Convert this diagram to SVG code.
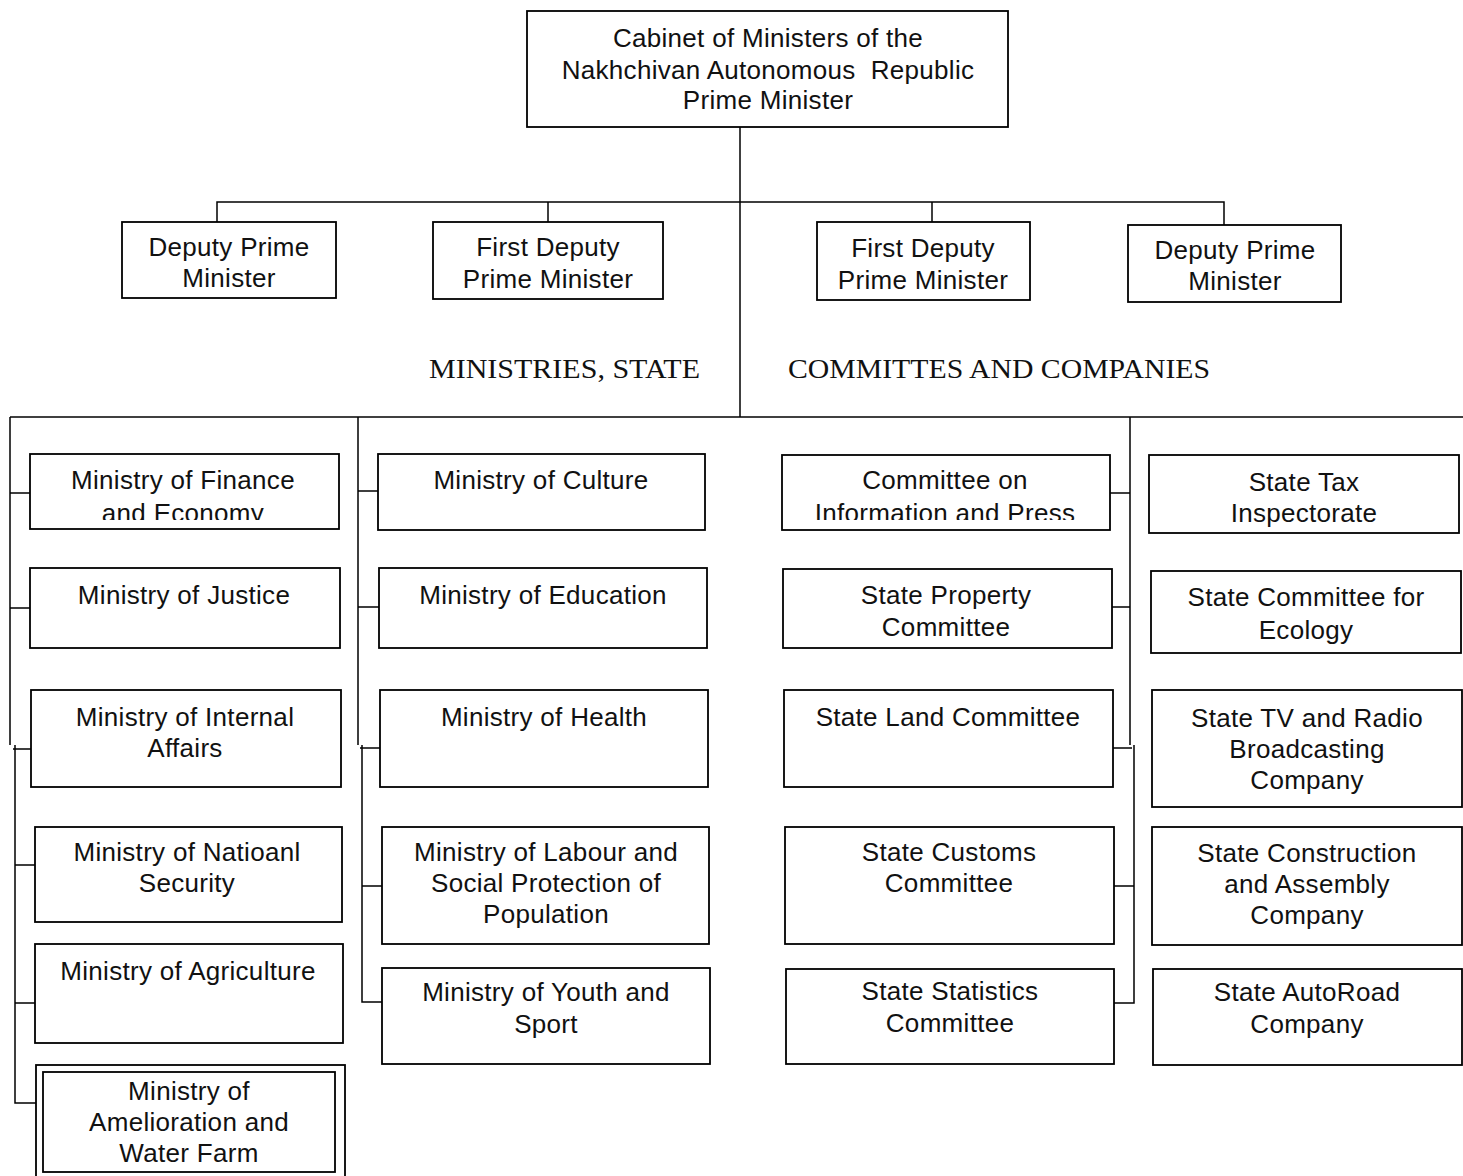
<svg xmlns="http://www.w3.org/2000/svg" width="1463" height="1176" viewBox="0 0 1463 1176">
<style>
.box{fill:#fff;stroke:#000;stroke-width:1.8}
.t{font-family:"Liberation Sans",Arial,sans-serif;font-size:26px;fill:#111;text-anchor:middle;letter-spacing:0.3px}
.h{font-family:"Liberation Serif","Times New Roman",serif;font-size:28px;fill:#111}
.c{fill:none;stroke:#000;stroke-width:1.5}
</style>
<defs>
<clipPath id="clipFin"><rect x="30" y="454" width="310" height="66"/></clipPath>
<clipPath id="clipInfo"><rect x="782" y="455" width="329" height="65"/></clipPath>
</defs>
<rect width="1463" height="1176" fill="#fff"/>
<g id="connectors">
<path class="c" d="M740,127 V417"/>
<path class="c" d="M217,222 V202 H1224 V225"/>
<path class="c" d="M548,202 V222"/>
<path class="c" d="M932,202 V222"/>
<path class="c" d="M10,417 H1463"/>
<path class="c" d="M10,417 V745 M15,745 V1103 H36"/>
<path class="c" d="M10,493 H30 M10,608 H30 M13,749 H31 M15,865 H35 M15,1003 H35"/>
<path class="c" d="M358,417 V745 M362,745 V1002 H382"/>
<path class="c" d="M358,491 H378 M358,607 H379 M360,748 H380 M362,886 H382"/>
<path class="c" d="M1130,417 V745 M1134,745 V1003 H1114"/>
<path class="c" d="M1110,493 H1130 M1112,607 H1130 M1113,748 H1132 M1114,886 H1134"/>
</g>
<g id="cabinet"><rect class="box" x="527" y="11" width="481" height="116"/>
<text class="t" x="768" y="47">Cabinet of Ministers of the</text>
<text class="t" x="768" y="79" xml:space="preserve">Nakhchivan Autonomous  Republic</text>
<text class="t" x="768" y="109">Prime Minister</text></g>
<g id="deputy1"><rect class="box" x="122" y="222" width="214" height="76"/>
<text class="t" x="229" y="256">Deputy Prime</text><text class="t" x="229" y="287">Minister</text></g>
<g id="firstdeputy1"><rect class="box" x="433" y="222" width="230" height="77"/>
<text class="t" x="548" y="256">First Deputy</text><text class="t" x="548" y="288">Prime Minister</text></g>
<g id="firstdeputy2"><rect class="box" x="817" y="222" width="213" height="78"/>
<text class="t" x="923" y="257">First Deputy</text><text class="t" x="923" y="289">Prime Minister</text></g>
<g id="deputy2"><rect class="box" x="1128" y="225" width="213" height="77"/>
<text class="t" x="1235" y="259">Deputy Prime</text><text class="t" x="1235" y="290">Minister</text></g>
<g id="heading">
<text class="h" x="429" y="378" textLength="271" lengthAdjust="spacingAndGlyphs">MINISTRIES, STATE</text>
<text class="h" x="788" y="378" textLength="422" lengthAdjust="spacingAndGlyphs">COMMITTES AND COMPANIES</text>
</g>
<g id="finance"><rect class="box" x="30" y="454" width="309" height="75"/>
<g clip-path="url(#clipFin)"><text class="t" x="183" y="489">Ministry of Finance</text><text class="t" x="183" y="522">and Economy</text></g></g>
<g id="justice"><rect class="box" x="30" y="568" width="310" height="80"/>
<text class="t" x="184" y="604">Ministry of Justice</text></g>
<g id="internal"><rect class="box" x="31" y="690" width="310" height="97"/>
<text class="t" x="185" y="726">Ministry of Internal</text><text class="t" x="185" y="757">Affairs</text></g>
<g id="security"><rect class="box" x="35" y="827" width="307" height="95"/>
<text class="t" x="187" y="861">Ministry of Natioanl</text><text class="t" x="187" y="892">Security</text></g>
<g id="agriculture"><rect class="box" x="35" y="944" width="308" height="99"/>
<text class="t" x="188" y="980">Ministry of Agriculture</text></g>
<g id="amelioration"><rect class="box" x="36" y="1065" width="309" height="115"/>
<rect class="box" x="43" y="1072" width="292" height="100"/>
<text class="t" x="189" y="1100">Ministry of</text><text class="t" x="189" y="1131">Amelioration and</text><text class="t" x="189" y="1162">Water Farm</text></g>
<g id="culture"><rect class="box" x="378" y="454" width="327" height="76"/>
<text class="t" x="541" y="489">Ministry of Culture</text></g>
<g id="education"><rect class="box" x="379" y="568" width="328" height="80"/>
<text class="t" x="543" y="604">Ministry of Education</text></g>
<g id="health"><rect class="box" x="380" y="690" width="328" height="97"/>
<text class="t" x="544" y="726">Ministry of Health</text></g>
<g id="labour"><rect class="box" x="382" y="827" width="327" height="117"/>
<text class="t" x="546" y="861">Ministry of Labour and</text><text class="t" x="546" y="892">Social Protection of</text><text class="t" x="546" y="923">Population</text></g>
<g id="youth"><rect class="box" x="382" y="968" width="328" height="96"/>
<text class="t" x="546" y="1001">Ministry of Youth and</text><text class="t" x="546" y="1033">Sport</text></g>
<g id="info"><rect class="box" x="782" y="455" width="328" height="75"/>
<g clip-path="url(#clipInfo)"><text class="t" x="945" y="489">Committee on</text><text class="t" x="945" y="522">Information and Press</text></g></g>
<g id="property"><rect class="box" x="783" y="569" width="329" height="79"/>
<text class="t" x="946" y="604">State Property</text><text class="t" x="946" y="636">Committee</text></g>
<g id="land"><rect class="box" x="784" y="690" width="329" height="97"/>
<text class="t" x="948" y="726">State Land Committee</text></g>
<g id="customs"><rect class="box" x="785" y="827" width="329" height="117"/>
<text class="t" x="949" y="861">State Customs</text><text class="t" x="949" y="892">Committee</text></g>
<g id="statistics"><rect class="box" x="786" y="969" width="328" height="95"/>
<text class="t" x="950" y="1000">State Statistics</text><text class="t" x="950" y="1032">Committee</text></g>
<g id="tax"><rect class="box" x="1149" y="455" width="310" height="78"/>
<text class="t" x="1304" y="491">State Tax</text><text class="t" x="1304" y="522">Inspectorate</text></g>
<g id="ecology"><rect class="box" x="1151" y="571" width="310" height="82"/>
<text class="t" x="1306" y="606">State Committee for</text><text class="t" x="1306" y="639">Ecology</text></g>
<g id="tv"><rect class="box" x="1152" y="690" width="310" height="117"/>
<text class="t" x="1307" y="727">State TV and Radio</text><text class="t" x="1307" y="758">Broadcasting</text><text class="t" x="1307" y="789">Company</text></g>
<g id="construction"><rect class="box" x="1152" y="827" width="310" height="118"/>
<text class="t" x="1307" y="862">State Construction</text><text class="t" x="1307" y="893">and Assembly</text><text class="t" x="1307" y="924">Company</text></g>
<g id="autoroad"><rect class="box" x="1153" y="969" width="309" height="96"/>
<text class="t" x="1307" y="1001">State AutoRoad</text><text class="t" x="1307" y="1033">Company</text></g>
</svg>
